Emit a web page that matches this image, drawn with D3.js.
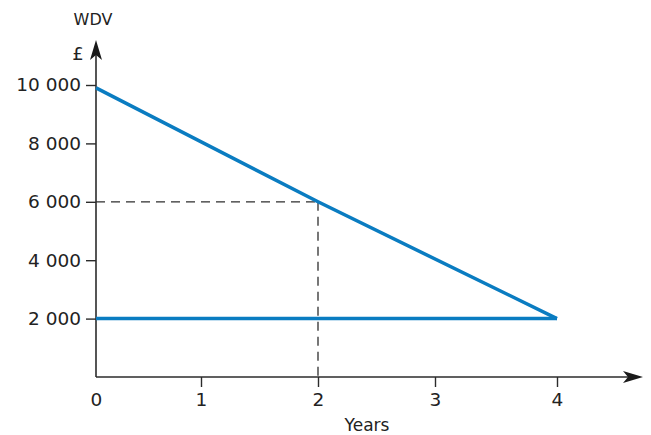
<!DOCTYPE html>
<html><head><meta charset="utf-8">
<script src="https://cdn.jsdelivr.net/npm/d3@7"></script>
<style>
html,body{margin:0;padding:0;background:#fff;}
svg{display:block;font-family:"DejaVu Sans",sans-serif;}
</style></head>
<body>
<svg id="c" width="651" height="435"></svg>
<script>
const years = [0, 1, 2, 3, 4];
const yTicks = [2000, 4000, 6000, 8000, 10000];
const wdvYears = [0, 2, 4];
const wdvValues = [9900, 6000, 2000];
const floorYears = [0, 4];
const floorValues = [2000, 2000];
const guideYear = 2;
const guideValue = 6000;

const svg = d3.select("#c");
const x = d3.scaleLinear().domain(years).range([96, 201, 318, 435, 557]);
const y = d3.scaleLinear().domain([0, 10000]).range([377, 85]);
const fmt = d3.formatLocale({decimal: ".", thousands: " ", grouping: [3], currency: ["£", ""]}).format(",d");
const axisCol = "#2b2b2b";
const blue = "#0a7cc1";

// dashed guides
const g = svg.append("g").attr("stroke", "#2e2e2e").attr("stroke-width", 1.3).attr("stroke-dasharray", "9,6");
g.append("line").attr("x1", x(0)).attr("x2", x(guideYear)).attr("y1", y(guideValue)).attr("y2", y(guideValue));
g.append("line").attr("x1", x(guideYear)).attr("x2", x(guideYear)).attr("y1", y(guideValue)).attr("y2", y(0));

// Y axis
const yAxis = svg.append("g").attr("transform", `translate(${x(0)},0)`)
  .call(d3.axisLeft(y).tickValues(yTicks).tickSize(10).tickPadding(5).tickFormat(fmt));
yAxis.select(".domain").remove();
yAxis.selectAll("line").attr("stroke", axisCol).attr("stroke-width", 1.4);
yAxis.selectAll("text").attr("font-size", 18.5).attr("fill", "#222").attr("font-family", "DejaVu Sans, sans-serif");

// X axis
const xAxis = svg.append("g").attr("transform", `translate(0,${y(0)})`)
  .call(d3.axisBottom(x).tickValues(years).tickSize(10).tickPadding(6).tickFormat(d3.format("d")));
xAxis.select(".domain").remove();
xAxis.selectAll("line").attr("stroke", axisCol).attr("stroke-width", 1.4).filter(d => d === 0).remove();
xAxis.selectAll("text").attr("font-size", 18.5).attr("fill", "#222").attr("font-family", "DejaVu Sans, sans-serif");

// axis lines with arrows
svg.append("line").attr("x1", x(0)).attr("x2", x(0)).attr("y1", y(0)).attr("y2", 50)
  .attr("stroke", axisCol).attr("stroke-width", 1.6);
svg.append("line").attr("x1", x(0)).attr("x2", 630).attr("y1", y(0)).attr("y2", y(0))
  .attr("stroke", axisCol).attr("stroke-width", 1.6);
svg.append("path").attr("d", `M${x(0)},40 L${x(0)+6},60 L${x(0)},55 L${x(0)-6},60 Z`).attr("fill", "#1a1a1a");
svg.append("path").attr("d", `M643,${y(0)} L623,${y(0)-6} L628,${y(0)} L623,${y(0)+6} Z`).attr("fill", "#1a1a1a");

// lines
const line = d3.line().x(d => x(d[0])).y(d => y(d[1]));
svg.append("path").datum(wdvYears.map((d, i) => [d, wdvValues[i]])).attr("d", line)
  .attr("fill", "none").attr("stroke", blue).attr("stroke-width", 3.5).attr("stroke-linejoin", "miter");
svg.append("path").datum(floorYears.map((d, i) => [d, floorValues[i]])).attr("d", line)
  .attr("fill", "none").attr("stroke", blue).attr("stroke-width", 3.5);

// labels
svg.append("text").attr("x", 93).attr("y", 25).attr("text-anchor", "middle").attr("font-size", 16).attr("fill", "#222").text("WDV");
svg.append("text").attr("x", 78).attr("y", 60).attr("text-anchor", "middle").attr("font-size", 18).attr("fill", "#222").text("£");
svg.append("text").attr("x", 367).attr("y", 431).attr("text-anchor", "middle").attr("font-size", 17).attr("fill", "#222").text("Years");
</script>
</body></html>
